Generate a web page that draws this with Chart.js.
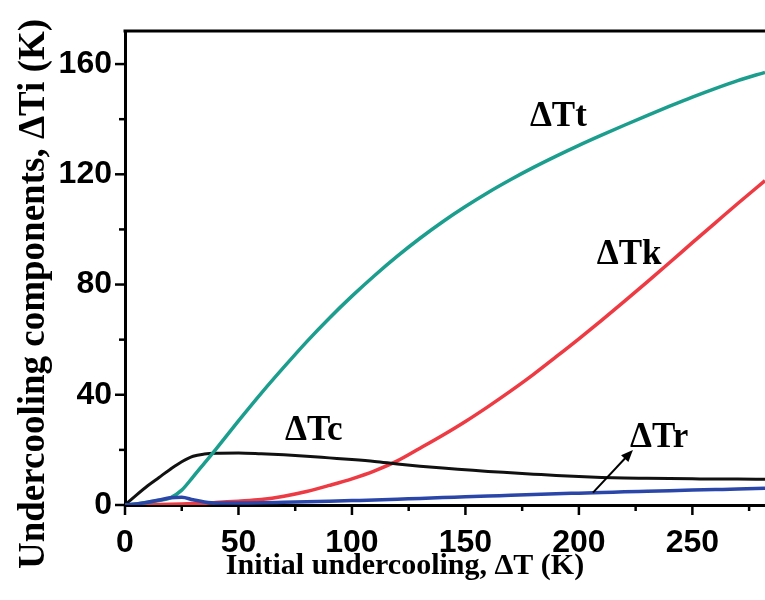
<!DOCTYPE html>
<html><head><meta charset="utf-8">
<script src="https://cdn.jsdelivr.net/npm/chart.js@4.4.1/dist/chart.umd.min.js"></script>
<style>html,body{margin:0;padding:0;background:#fff;overflow:hidden}#wrap{width:765px;height:600px}</style>
</head><body><div id="wrap"><canvas id="c" width="765" height="600"></canvas></div>
<script>
// Initial undercooling ΔT (K)
const xValues = [0,5,10,15,20,25,30,35,40,50,60,70,80,90,100,110,120,130,140,150,160,170,180,190,200,210,220,230,240,250,260,270,282];
// Thermal undercooling ΔTt
const dTt = [0,0.4,1,1.6,2.6,5.4,10.2,15.2,20.2,30.5,40.5,50,59.2,67.8,75.8,83.3,90.3,96.8,102.8,108.3,113.4,118.1,122.5,126.6,130.5,134.2,137.8,141.3,144.7,148,151.1,154,157];
// Kinetic undercooling ΔTk
const dTk = [0,0,0.1,0.2,0.3,0.4,0.5,0.6,0.9,1.4,2.0,3.2,4.9,7.1,9.5,12.4,16,20.6,25.3,30.3,35.7,41.4,47.4,53.8,60.3,67,73.9,80.9,88,95.2,102.3,109.4,117.7];
// Constitutional undercooling ΔTc
const dTc = [0,3.6,7,10,13,15.7,17.7,18.5,18.8,18.9,18.6,18.2,17.7,17.1,16.5,15.8,14.9,14.1,13.4,12.8,12.2,11.7,11.2,10.7,10.3,10,9.8,9.7,9.6,9.5,9.4,9.4,9.3];
// Curvature undercooling ΔTr
const dTr = [0,0.4,1,1.8,2.6,2.8,1.9,1.1,0.7,0.7,0.8,1,1.2,1.4,1.6,1.8,2.1,2.4,2.7,3,3.3,3.5,3.8,4.1,4.3,4.5,4.8,5,5.2,5.4,5.6,5.8,6.1];

const xTickValues = [0,25,50,75,100,125,150,175,200,225,250,275];
const yTickValues = [0,20,40,60,80,100,120,140,160];
const xMajorTicks = [0,50,100,150,200,250];
const yMajorTicks = [0,40,80,120,160];
const xTitle = 'Initial undercooling, \u0394T (K)';
const yTitle = 'Undercooling components, \u0394Ti (K)';
const curveLabels = ['\u0394Tt','\u0394Tk','\u0394Tc','\u0394Tr'];
const curveLabelAt = [[178.4,137.5],[207.9,87.3],[70.5,23.6],[222.5,21.1]];
const arrowFrom = [206.2,4.5];
const arrowTo = [223.8,20];

const pts = arr => xValues.map((x,i)=>({x:x,y:arr[i]}));

const decor = {
  id:'decor',
  afterDraw(chart){
    const {ctx, chartArea:{left,right,top,bottom}, scales:{x,y}} = chart;
    ctx.save();
    ctx.strokeStyle='#000'; ctx.fillStyle='#000';
    ctx.lineWidth=3;
    ctx.beginPath(); ctx.moveTo(left-1.5, top); ctx.lineTo(right, top); ctx.stroke();
    ctx.lineWidth=2.5;
    x.ticks.forEach(t=>{
      const px=x.getPixelForValue(t.value);
      const len = xMajorTicks.includes(t.value)?10:6;
      ctx.beginPath(); ctx.moveTo(px,bottom); ctx.lineTo(px,bottom+len); ctx.stroke();
    });
    y.ticks.forEach(t=>{
      const py=y.getPixelForValue(t.value);
      const len = yMajorTicks.includes(t.value)?10:6;
      ctx.beginPath(); ctx.moveTo(left,py); ctx.lineTo(left-len,py); ctx.stroke();
    });
    // curve labels
    ctx.font='bold 35px "Liberation Serif", "Times New Roman", serif';
    ctx.textAlign='left'; ctx.textBaseline='alphabetic';
    curveLabels.forEach((s,i)=>{
      ctx.fillText(s, x.getPixelForValue(curveLabelAt[i][0]), y.getPixelForValue(curveLabelAt[i][1]));
    });
    // arrow
    const ax0=x.getPixelForValue(arrowFrom[0]), ay0=y.getPixelForValue(arrowFrom[1]);
    const ax1=x.getPixelForValue(arrowTo[0]), ay1=y.getPixelForValue(arrowTo[1]);
    const ang=Math.atan2(ay1-ay0, ax1-ax0);
    ctx.lineWidth=2;
    ctx.beginPath(); ctx.moveTo(ax0,ay0); ctx.lineTo(ax1-8*Math.cos(ang), ay1-8*Math.sin(ang)); ctx.stroke();
    ctx.beginPath();
    ctx.moveTo(ax1,ay1);
    ctx.lineTo(ax1-12*Math.cos(ang)+5*Math.sin(ang), ay1-12*Math.sin(ang)-5*Math.cos(ang));
    ctx.lineTo(ax1-12*Math.cos(ang)-5*Math.sin(ang), ay1-12*Math.sin(ang)+5*Math.cos(ang));
    ctx.closePath(); ctx.fill();
    // axis titles
    ctx.font='bold 30px "Liberation Serif", "Times New Roman", serif';
    ctx.textAlign='center';
    ctx.fillText(xTitle, 405, 574);
    ctx.translate(44, 294); ctx.rotate(-Math.PI/2);
    ctx.font='bold 37px "Liberation Serif", "Times New Roman", serif';
    ctx.fillText(yTitle, 0, 0);
    ctx.restore();
  }
};

const tickFont = {family:'"Liberation Sans", Arial, sans-serif', weight:'bold', size:32};

new Chart(document.getElementById('c'), {
  type:'line',
  data:{datasets:[
    {label:'\u0394Tr', data:pts(dTr), borderColor:'#2a46a8', borderWidth:3.5},
    {label:'\u0394Tt', data:pts(dTt), borderColor:'#1b9e8e', borderWidth:3.5},
    {label:'\u0394Tc', data:pts(dTc), borderColor:'#111111', borderWidth:3},
    {label:'\u0394Tk', data:pts(dTk), borderColor:'#ee3a42', borderWidth:3.5}
  ]},
  options:{
    responsive:false, animation:false, devicePixelRatio:1,
    layout:{padding:{top:31,left:0,right:0,bottom:0}},
    elements:{point:{radius:0}, line:{cubicInterpolationMode:'monotone', fill:false}},
    plugins:{legend:{display:false}, tooltip:{enabled:false}},
    scales:{
      x:{type:'linear', min:0, max:282,
        afterBuildTicks:s=>{s.ticks=xTickValues.map(v=>({value:v}));},
        afterFit:s=>{s.height=95;},
        ticks:{autoSkip:false, maxRotation:0, padding:9, color:'#000', font:tickFont,
          callback:v=>xMajorTicks.includes(v)?String(v):''},
        grid:{display:true, drawOnChartArea:false, drawTicks:true, tickLength:10, tickColor:'rgba(0,0,0,0)'},
        border:{display:true, color:'#000', width:3}
      },
      y:{type:'linear', min:0, max:172,
        afterBuildTicks:s=>{s.ticks=yTickValues.map(v=>({value:v}));},
        afterFit:s=>{s.width=125;},
        ticks:{autoSkip:false, padding:3, color:'#000', font:tickFont,
          callback:v=>yMajorTicks.includes(v)?String(v):''},
        grid:{display:true, drawOnChartArea:false, drawTicks:true, tickLength:10, tickColor:'rgba(0,0,0,0)'},
        border:{display:true, color:'#000', width:3}
      }
    }
  },
  plugins:[decor]
});
</script></body></html>
